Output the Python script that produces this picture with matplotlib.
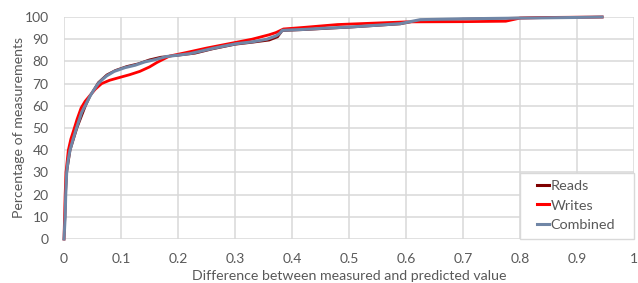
import matplotlib.pyplot as plt
from matplotlib.patches import Rectangle

# CDF of difference between measured and predicted value
reads_x = [0, 0.002, 0.003, 0.005, 0.011, 0.023, 0.038, 0.047, 0.06, 0.075, 0.09, 0.11,
           0.13, 0.15, 0.17, 0.2, 0.23, 0.26, 0.3, 0.33, 0.36, 0.375, 0.383, 0.42, 0.5,
           0.59, 0.625, 0.7, 0.8, 0.944]
reads_y = [0, 10, 20, 30, 40, 50, 60, 65, 70.5, 74, 76, 77.8,
           79, 80.8, 82, 82.7, 83.6, 85.5, 87.6, 88.5, 89.5, 91, 93.8, 94.2, 95.3,
           96.8, 98.6, 99.1, 99.6, 100]

writes_x = [0, 0.001, 0.002, 0.0035, 0.0076, 0.012, 0.017, 0.023, 0.03, 0.037, 0.045,
            0.055, 0.066, 0.08, 0.098, 0.115, 0.133, 0.15, 0.163, 0.185, 0.2, 0.22, 0.25,
            0.28, 0.3, 0.33, 0.36, 0.372, 0.385, 0.42, 0.48, 0.55, 0.6, 0.7, 0.775, 0.8,
            0.85, 0.944]
writes_y = [0, 10, 20, 30, 40, 45, 49, 54, 59, 62, 64.5,
            67.5, 70, 71.5, 72.8, 74, 75.5, 77.5, 79.5, 82.4, 83.2, 84.3, 86,
            87.5, 88.5, 90, 92, 93, 94.6, 95.3, 96.6, 97.3, 97.8, 97.9, 98.1, 99.5,
            99.8, 100]

combined_x = [0, 0.001, 0.002, 0.003, 0.0047, 0.007, 0.0105, 0.016, 0.022, 0.031, 0.037,
              0.046, 0.052, 0.06, 0.068, 0.075, 0.088, 0.107, 0.125, 0.142, 0.16, 0.18,
              0.2, 0.221, 0.24, 0.262, 0.283, 0.303, 0.33, 0.356, 0.372, 0.378, 0.383,
              0.42, 0.46, 0.502, 0.55, 0.59, 0.625, 0.7, 0.8, 0.9, 0.944]
combined_y = [0, 5, 10, 20, 30, 35, 40, 45, 50, 57, 60,
              64.5, 67, 70, 72, 73.5, 75.5, 77.2, 78.3, 79.8, 80.8, 82.2,
              82.8, 83.5, 84.6, 85.9, 87, 88, 88.8, 90, 91.5, 92.5, 94,
              94.4, 95, 95.5, 96.3, 97, 98.8, 99.2, 99.5, 99.8, 100]

x_ticks = [0, 0.1, 0.2, 0.3, 0.4, 0.5, 0.6, 0.7, 0.8, 0.9, 1]
x_labels = ["0", "0.1", "0.2", "0.3", "0.4", "0.5", "0.6", "0.7", "0.8", "0.9", "1"]
y_ticks = list(range(0, 101, 10))

plt.rcParams['font.family'] = ['Lato', 'DejaVu Sans']
txt = '#595959'
grid = '#d9d9d9'

fig = plt.figure(figsize=(6.38, 2.83), dpi=100)
ax = fig.add_axes([64 / 638, 44 / 283, 570 / 638, 222 / 283])

ax.plot(reads_x, reads_y, color='#7f0000', lw=1.6, label='Reads', clip_on=False)
ax.plot(writes_x, writes_y, color='#ff0000', lw=2.0, label='Writes', clip_on=False)
ax.plot(combined_x, combined_y, color='#7086a6', lw=2.2, label='Combined', clip_on=False)

ax.set_xlim(0, 1)
ax.set_ylim(0, 100)
ax.set_xticks(x_ticks)
ax.set_xticklabels(x_labels)
ax.set_yticks(y_ticks)
ax.tick_params(length=0, labelsize=10, labelcolor=txt)
ax.tick_params(axis='y', pad=11)
ax.tick_params(axis='x', pad=10)
ax.grid(True, color=grid, lw=1.1)
ax.set_axisbelow(True)
for s in ax.spines.values():
    s.set_visible(False)

ax.set_xlabel('Difference between measured and predicted value', fontsize=10.2, color=txt, labelpad=4)
ax.set_ylabel('Percentage of measurements', fontsize=10.2, color=txt, labelpad=0)

# legend box (Excel style)
box = Rectangle((0.8, 0), 0.2, 66 / 222, transform=ax.transAxes, facecolor='white',
                edgecolor=grid, lw=1.0, zorder=3, clip_on=False)
ax.add_patch(box)
leg = ax.legend(loc='center', bbox_to_anchor=(0.899, 0.151), frameon=False, fontsize=10.4,
                handlelength=0.8, handletextpad=0.12, labelspacing=0.5, borderpad=0)
leg.set_zorder(5)
for t in leg.get_texts():
    t.set_color(txt)
for h in leg.get_lines():
    h.set_linewidth(2.2)

plt.savefig('out.png', dpi=100)
